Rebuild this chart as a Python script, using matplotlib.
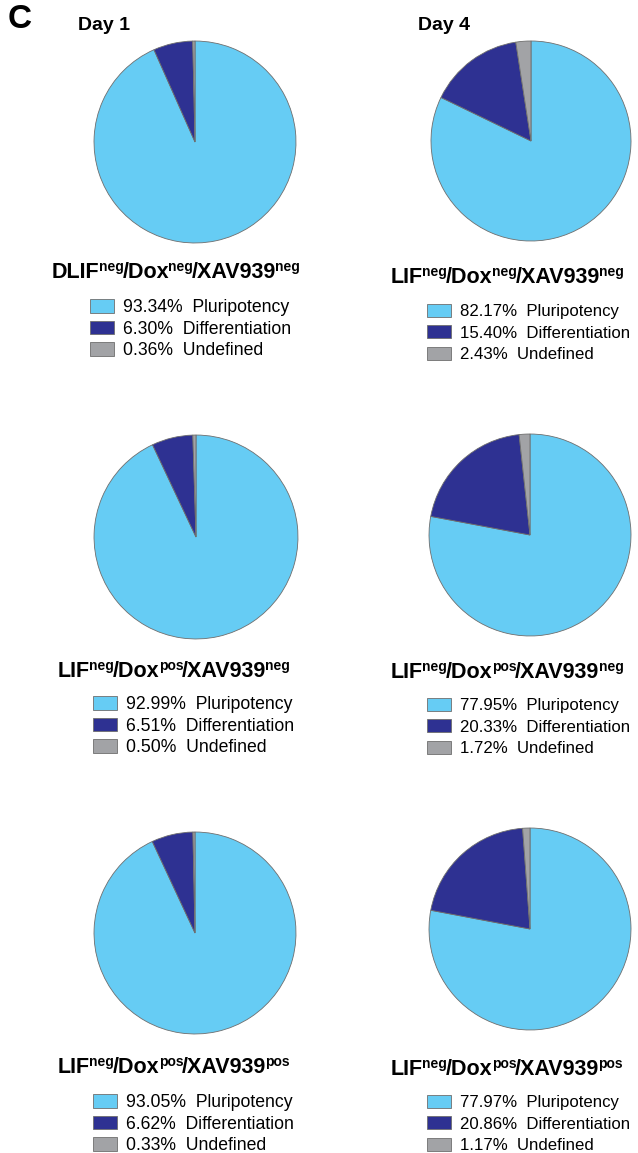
import matplotlib
matplotlib.use("Agg")
import matplotlib.pyplot as plt

W, H = 638, 1153
plt.rcParams["font.family"] = ["Liberation Sans", "DejaVu Sans"]

categories = ["Pluripotency", "Differentiation", "Undefined"]
colors = ["#66CCF4", "#2E3192", "#A2A3A6"]

day1_values = [
    [93.34, 6.30, 0.36],
    [92.99, 6.51, 0.50],
    [93.05, 6.62, 0.33],
]
day4_values = [
    [82.17, 15.40, 2.43],
    [77.95, 20.33, 1.72],
    [77.97, 20.86, 1.17],
]
# title pieces: (text, is_superscript)
day1_titles = [
    [("DLIF", 0), ("neg", 1), ("/Dox", 0), ("neg", 1), ("/XAV939", 0), ("neg", 1)],
    [("LIF", 0), ("neg", 1), ("/Dox", 0), ("pos", 1), ("/XAV939", 0), ("neg", 1)],
    [("LIF", 0), ("neg", 1), ("/Dox", 0), ("pos", 1), ("/XAV939", 0), ("pos", 1)],
]
day4_titles = [
    [("LIF", 0), ("neg", 1), ("/Dox", 0), ("neg", 1), ("/XAV939", 0), ("neg", 1)],
    [("LIF", 0), ("neg", 1), ("/Dox", 0), ("pos", 1), ("/XAV939", 0), ("neg", 1)],
    [("LIF", 0), ("neg", 1), ("/Dox", 0), ("pos", 1), ("/XAV939", 0), ("pos", 1)],
]

# layout in pixels: pie centre x, y, radius, title left x, baseline y, legend left x, top y
day1_layout = [
    (195, 142, 103, 52, 278, 90, 299),
    (196, 537, 104, 58, 677, 93, 696),
    (195, 933, 103, 58, 1073, 93, 1094),
]
day4_layout = [
    (531, 141, 102, 391, 283, 427, 304),
    (530, 535, 103, 391, 678, 427, 698),
    (530, 929, 103, 391, 1075, 427, 1095),
]

fig = plt.figure(figsize=(W / 100, H / 100), dpi=100)
renderer = fig.canvas.get_renderer()


def draw_title(pieces, x, y):
    for txt, sup in pieces:
        size = 10 if sup else 15.5
        yy = y - 7 if sup else y
        t = fig.text(x / W, 1 - yy / H, txt, fontsize=size, fontweight="bold",
                     ha="left", va="baseline")
        x += t.get_window_extent(renderer).width - 1


def draw_panel(values, title, lay, legend_size, spacing):
    cx, cy, r, tx, ty, lx, ly = lay
    ax = fig.add_axes([(cx - r) / W, 1 - (cy + r) / H, 2 * r / W, 2 * r / H])
    wedges, _ = ax.pie(values, colors=colors, startangle=90, counterclock=False,
                       radius=1.0,
                       wedgeprops=dict(edgecolor="#6E6E6E", linewidth=0.6))
    ax.set_xlim(-1.02, 1.02)
    ax.set_ylim(-1.02, 1.02)
    ax.set_aspect("equal")
    ax.axis("off")
    draw_title(title, tx, ty)
    labels = [f"{v:.2f}%  {c}" for v, c in zip(values, categories)]
    fig.legend(wedges, labels, loc="upper left",
               bbox_to_anchor=(lx / W, 1 - ly / H), frameon=False,
               fontsize=legend_size, borderpad=0, borderaxespad=0,
               handlelength=24 / (legend_size * 1.389), handleheight=0.8,
               handletextpad=9 / (legend_size * 1.389),
               labelspacing=spacing)


for vals, title, lay in zip(day1_values, day1_titles, day1_layout):
    draw_panel(vals, title, lay, 12.7, 0.26)
for vals, title, lay in zip(day4_values, day4_titles, day4_layout):
    draw_panel(vals, title, lay, 12.1, 0.37)

fig.text(8 / W, 1 - 20 / H, "C", fontsize=24, fontweight="bold", va="center", ha="left")
fig.text(78 / W, 1 - 25 / H, "Day 1", fontsize=14, fontweight="bold", va="center", ha="left")
fig.text(418 / W, 1 - 25 / H, "Day 4", fontsize=14, fontweight="bold", va="center", ha="left")

fig.savefig("out.png", dpi=100)
